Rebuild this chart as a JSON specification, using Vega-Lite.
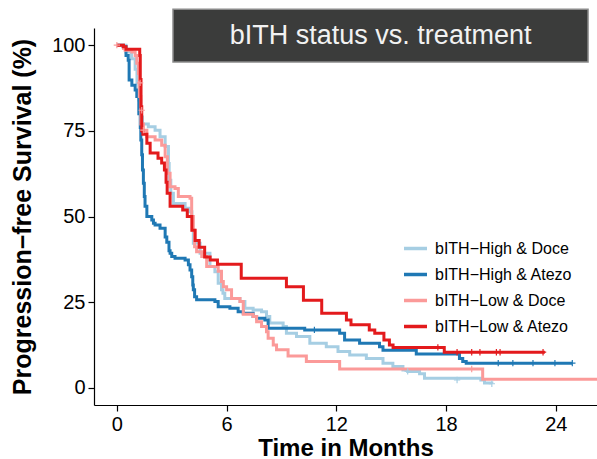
{
  "$schema": "https://vega.github.io/schema/vega-lite/v6.json",
  "autosize": {"type": "none"},
  "padding": {"left": 94, "top": 28, "right": 0, "bottom": 54},
  "width": 503,
  "height": 377,
  "background": "white",
  "config": {
    "view": {"stroke": null},
    "font": "Liberation Sans",
    "axis": {
      "grid": false,
      "domainColor": "black",
      "domainWidth": 1.2,
      "tickColor": "black",
      "tickWidth": 1.2,
      "tickSize": 6,
      "labelColor": "black",
      "labelFont": "Liberation Sans",
      "labelFontSize": 20,
      "labelPadding": 3,
      "titleFont": "Liberation Sans",
      "titleFontSize": 25,
      "titleFontWeight": "bold",
      "titleColor": "black"
    }
  },
  "datasets": {
    "km": [
      {"series": "bITH−High & Doce", "t": 0, "S": 100},
      {"series": "bITH−High & Doce", "t": 0.5, "S": 98},
      {"series": "bITH−High & Doce", "t": 0.8, "S": 96},
      {"series": "bITH−High & Doce", "t": 1.0, "S": 93},
      {"series": "bITH−High & Doce", "t": 1.1, "S": 89},
      {"series": "bITH−High & Doce", "t": 1.2, "S": 84},
      {"series": "bITH−High & Doce", "t": 1.3, "S": 79},
      {"series": "bITH−High & Doce", "t": 1.4, "S": 77},
      {"series": "bITH−High & Doce", "t": 1.72, "S": 76.2},
      {"series": "bITH−High & Doce", "t": 2.09, "S": 75.2},
      {"series": "bITH−High & Doce", "t": 2.36, "S": 73.3},
      {"series": "bITH−High & Doce", "t": 2.64, "S": 70.4},
      {"series": "bITH−High & Doce", "t": 2.82, "S": 65.5},
      {"series": "bITH−High & Doce", "t": 2.86, "S": 60.6},
      {"series": "bITH−High & Doce", "t": 2.95, "S": 56.8},
      {"series": "bITH−High & Doce", "t": 3.09, "S": 53.8},
      {"series": "bITH−High & Doce", "t": 3.73, "S": 52.4},
      {"series": "bITH−High & Doce", "t": 3.95, "S": 51.4},
      {"series": "bITH−High & Doce", "t": 4.1, "S": 50},
      {"series": "bITH−High & Doce", "t": 4.15, "S": 46},
      {"series": "bITH−High & Doce", "t": 4.18, "S": 42.2},
      {"series": "bITH−High & Doce", "t": 4.55, "S": 39.3},
      {"series": "bITH−High & Doce", "t": 5.09, "S": 35.4},
      {"series": "bITH−High & Doce", "t": 5.36, "S": 33.9},
      {"series": "bITH−High & Doce", "t": 5.54, "S": 30.5},
      {"series": "bITH−High & Doce", "t": 5.72, "S": 28.6},
      {"series": "bITH−High & Doce", "t": 5.8, "S": 27.6},
      {"series": "bITH−High & Doce", "t": 5.9, "S": 26.1},
      {"series": "bITH−High & Doce", "t": 6.73, "S": 25.2},
      {"series": "bITH−High & Doce", "t": 7.0, "S": 23.2},
      {"series": "bITH−High & Doce", "t": 7.45, "S": 22.7},
      {"series": "bITH−High & Doce", "t": 7.91, "S": 22.2},
      {"series": "bITH−High & Doce", "t": 8.18, "S": 20.8},
      {"series": "bITH−High & Doce", "t": 8.36, "S": 18.9},
      {"series": "bITH−High & Doce", "t": 9.09, "S": 17.9},
      {"series": "bITH−High & Doce", "t": 9.27, "S": 15.9},
      {"series": "bITH−High & Doce", "t": 9.82, "S": 15},
      {"series": "bITH−High & Doce", "t": 10.55, "S": 13},
      {"series": "bITH−High & Doce", "t": 11.45, "S": 12},
      {"series": "bITH−High & Doce", "t": 12.09, "S": 10.6},
      {"series": "bITH−High & Doce", "t": 12.73, "S": 9.6},
      {"series": "bITH−High & Doce", "t": 13.64, "S": 8.6},
      {"series": "bITH−High & Doce", "t": 14.55, "S": 7.2},
      {"series": "bITH−High & Doce", "t": 15.09, "S": 6.2},
      {"series": "bITH−High & Doce", "t": 15.64, "S": 5.2},
      {"series": "bITH−High & Doce", "t": 15.9, "S": 4.8},
      {"series": "bITH−High & Doce", "t": 16.55, "S": 4.1},
      {"series": "bITH−High & Doce", "t": 16.82, "S": 2.8},
      {"series": "bITH−High & Doce", "t": 19.9, "S": 2.3},
      {"series": "bITH−High & Doce", "t": 20.1, "S": 1.4},
      {"series": "bITH−High & Doce", "t": 20.5, "S": 1.2},

      {"series": "bITH−High & Atezo", "t": 0, "S": 100},
      {"series": "bITH−High & Atezo", "t": 0.34, "S": 99.5},
      {"series": "bITH−High & Atezo", "t": 0.5, "S": 97},
      {"series": "bITH−High & Atezo", "t": 0.62, "S": 95.6},
      {"series": "bITH−High & Atezo", "t": 0.67, "S": 89.8},
      {"series": "bITH−High & Atezo", "t": 0.82, "S": 88.3},
      {"series": "bITH−High & Atezo", "t": 1.0, "S": 86.9},
      {"series": "bITH−High & Atezo", "t": 1.09, "S": 85},
      {"series": "bITH−High & Atezo", "t": 1.2, "S": 80},
      {"series": "bITH−High & Atezo", "t": 1.28, "S": 76},
      {"series": "bITH−High & Atezo", "t": 1.31, "S": 72.3},
      {"series": "bITH−High & Atezo", "t": 1.36, "S": 68},
      {"series": "bITH−High & Atezo", "t": 1.4, "S": 63.6},
      {"series": "bITH−High & Atezo", "t": 1.45, "S": 59.7},
      {"series": "bITH−High & Atezo", "t": 1.5, "S": 55.8},
      {"series": "bITH−High & Atezo", "t": 1.54, "S": 53},
      {"series": "bITH−High & Atezo", "t": 1.64, "S": 50},
      {"series": "bITH−High & Atezo", "t": 1.91, "S": 49},
      {"series": "bITH−High & Atezo", "t": 2.0, "S": 48},
      {"series": "bITH−High & Atezo", "t": 2.09, "S": 47.5},
      {"series": "bITH−High & Atezo", "t": 2.36, "S": 46.6},
      {"series": "bITH−High & Atezo", "t": 2.64, "S": 44},
      {"series": "bITH−High & Atezo", "t": 2.73, "S": 42.5},
      {"series": "bITH−High & Atezo", "t": 2.85, "S": 40},
      {"series": "bITH−High & Atezo", "t": 2.91, "S": 39.3},
      {"series": "bITH−High & Atezo", "t": 3.0, "S": 38.3},
      {"series": "bITH−High & Atezo", "t": 3.18, "S": 37.8},
      {"series": "bITH−High & Atezo", "t": 3.73, "S": 37.3},
      {"series": "bITH−High & Atezo", "t": 3.91, "S": 35.9},
      {"series": "bITH−High & Atezo", "t": 4.0, "S": 34.4},
      {"series": "bITH−High & Atezo", "t": 4.09, "S": 32.4},
      {"series": "bITH−High & Atezo", "t": 4.15, "S": 30},
      {"series": "bITH−High & Atezo", "t": 4.18, "S": 28.6},
      {"series": "bITH−High & Atezo", "t": 4.25, "S": 26.6},
      {"series": "bITH−High & Atezo", "t": 4.36, "S": 25.7},
      {"series": "bITH−High & Atezo", "t": 5.36, "S": 25.2},
      {"series": "bITH−High & Atezo", "t": 5.54, "S": 23.7},
      {"series": "bITH−High & Atezo", "t": 6.18, "S": 23.2},
      {"series": "bITH−High & Atezo", "t": 6.63, "S": 22.2},
      {"series": "bITH−High & Atezo", "t": 6.91, "S": 21.8},
      {"series": "bITH−High & Atezo", "t": 7.45, "S": 20.8},
      {"series": "bITH−High & Atezo", "t": 7.64, "S": 20.3},
      {"series": "bITH−High & Atezo", "t": 8.09, "S": 19.8},
      {"series": "bITH−High & Atezo", "t": 8.27, "S": 17.4},
      {"series": "bITH−High & Atezo", "t": 10.27, "S": 16.9},
      {"series": "bITH−High & Atezo", "t": 12.18, "S": 15.9},
      {"series": "bITH−High & Atezo", "t": 12.45, "S": 14},
      {"series": "bITH−High & Atezo", "t": 13.27, "S": 13},
      {"series": "bITH−High & Atezo", "t": 14.36, "S": 12},
      {"series": "bITH−High & Atezo", "t": 14.55, "S": 11},
      {"series": "bITH−High & Atezo", "t": 16.37, "S": 9.9},
      {"series": "bITH−High & Atezo", "t": 18.73, "S": 8.6},
      {"series": "bITH−High & Atezo", "t": 18.91, "S": 7.7},
      {"series": "bITH−High & Atezo", "t": 19.1, "S": 7.2},
      {"series": "bITH−High & Atezo", "t": 24.9, "S": 7.2},

      {"series": "bITH−Low & Doce", "t": 0, "S": 100},
      {"series": "bITH−Low & Doce", "t": 0.36, "S": 99},
      {"series": "bITH−Low & Doce", "t": 0.45, "S": 98.5},
      {"series": "bITH−Low & Doce", "t": 0.82, "S": 98},
      {"series": "bITH−Low & Doce", "t": 1.0, "S": 97},
      {"series": "bITH−Low & Doce", "t": 1.09, "S": 94.7},
      {"series": "bITH−Low & Doce", "t": 1.18, "S": 91.7},
      {"series": "bITH−Low & Doce", "t": 1.23, "S": 85},
      {"series": "bITH−Low & Doce", "t": 1.31, "S": 77},
      {"series": "bITH−Low & Doce", "t": 1.45, "S": 75.2},
      {"series": "bITH−Low & Doce", "t": 1.64, "S": 73.3},
      {"series": "bITH−Low & Doce", "t": 2.09, "S": 72.3},
      {"series": "bITH−Low & Doce", "t": 2.45, "S": 70.8},
      {"series": "bITH−Low & Doce", "t": 2.64, "S": 67.4},
      {"series": "bITH−Low & Doce", "t": 2.76, "S": 62.6},
      {"series": "bITH−Low & Doce", "t": 2.91, "S": 58.7},
      {"series": "bITH−Low & Doce", "t": 3.18, "S": 58.2},
      {"series": "bITH−Low & Doce", "t": 3.36, "S": 55.8},
      {"series": "bITH−Low & Doce", "t": 4.0, "S": 55.3},
      {"series": "bITH−Low & Doce", "t": 4.09, "S": 50},
      {"series": "bITH−Low & Doce", "t": 4.18, "S": 46},
      {"series": "bITH−Low & Doce", "t": 4.25, "S": 41.2},
      {"series": "bITH−Low & Doce", "t": 4.36, "S": 39.7},
      {"series": "bITH−Low & Doce", "t": 4.64, "S": 38.3},
      {"series": "bITH−Low & Doce", "t": 4.91, "S": 35.4},
      {"series": "bITH−Low & Doce", "t": 5.54, "S": 34},
      {"series": "bITH−Low & Doce", "t": 5.72, "S": 31},
      {"series": "bITH−Low & Doce", "t": 5.82, "S": 29.5},
      {"series": "bITH−Low & Doce", "t": 6.0, "S": 28.6},
      {"series": "bITH−Low & Doce", "t": 6.27, "S": 26.1},
      {"series": "bITH−Low & Doce", "t": 6.73, "S": 25.2},
      {"series": "bITH−Low & Doce", "t": 6.91, "S": 21.5},
      {"series": "bITH−Low & Doce", "t": 7.45, "S": 20.8},
      {"series": "bITH−Low & Doce", "t": 7.64, "S": 19.3},
      {"series": "bITH−Low & Doce", "t": 7.91, "S": 17.9},
      {"series": "bITH−Low & Doce", "t": 8.18, "S": 16.4},
      {"series": "bITH−Low & Doce", "t": 8.27, "S": 14.5},
      {"series": "bITH−Low & Doce", "t": 8.55, "S": 12.5},
      {"series": "bITH−Low & Doce", "t": 8.73, "S": 11.1},
      {"series": "bITH−Low & Doce", "t": 9.36, "S": 9.3},
      {"series": "bITH−Low & Doce", "t": 10.36, "S": 7.7},
      {"series": "bITH−Low & Doce", "t": 12.18, "S": 5.5},
      {"series": "bITH−Low & Doce", "t": 20.0, "S": 2.5},
      {"series": "bITH−Low & Doce", "t": 26.25, "S": 2.5},

      {"series": "bITH−Low & Atezo", "t": 0, "S": 100},
      {"series": "bITH−Low & Atezo", "t": 0.36, "S": 99.5},
      {"series": "bITH−Low & Atezo", "t": 0.5, "S": 98.8},
      {"series": "bITH−Low & Atezo", "t": 1.25, "S": 97},
      {"series": "bITH−Low & Atezo", "t": 1.28, "S": 90},
      {"series": "bITH−Low & Atezo", "t": 1.32, "S": 82},
      {"series": "bITH−Low & Atezo", "t": 1.36, "S": 75},
      {"series": "bITH−Low & Atezo", "t": 1.42, "S": 74},
      {"series": "bITH−Low & Atezo", "t": 1.64, "S": 71.4},
      {"series": "bITH−Low & Atezo", "t": 1.82, "S": 68.5},
      {"series": "bITH−Low & Atezo", "t": 2.25, "S": 67},
      {"series": "bITH−Low & Atezo", "t": 2.45, "S": 65.6},
      {"series": "bITH−Low & Atezo", "t": 2.6, "S": 63.6},
      {"series": "bITH−Low & Atezo", "t": 2.69, "S": 60},
      {"series": "bITH−Low & Atezo", "t": 2.75, "S": 56.8},
      {"series": "bITH−Low & Atezo", "t": 2.91, "S": 53},
      {"series": "bITH−Low & Atezo", "t": 3.6, "S": 51.9},
      {"series": "bITH−Low & Atezo", "t": 3.85, "S": 50},
      {"series": "bITH−Low & Atezo", "t": 4.1, "S": 46},
      {"series": "bITH−Low & Atezo", "t": 4.28, "S": 43},
      {"series": "bITH−Low & Atezo", "t": 4.5, "S": 41},
      {"series": "bITH−Low & Atezo", "t": 4.8, "S": 38.2},
      {"series": "bITH−Low & Atezo", "t": 5.1, "S": 37.3},
      {"series": "bITH−Low & Atezo", "t": 5.5, "S": 36.1},
      {"series": "bITH−Low & Atezo", "t": 6.8, "S": 32},
      {"series": "bITH−Low & Atezo", "t": 9.27, "S": 29.5},
      {"series": "bITH−Low & Atezo", "t": 10.2, "S": 25.6},
      {"series": "bITH−Low & Atezo", "t": 11.2, "S": 21.8},
      {"series": "bITH−Low & Atezo", "t": 12.55, "S": 19.8},
      {"series": "bITH−Low & Atezo", "t": 12.8, "S": 18.4},
      {"series": "bITH−Low & Atezo", "t": 13.8, "S": 16.9},
      {"series": "bITH−Low & Atezo", "t": 14.1, "S": 15.9},
      {"series": "bITH−Low & Atezo", "t": 14.6, "S": 14},
      {"series": "bITH−Low & Atezo", "t": 14.9, "S": 12.5},
      {"series": "bITH−Low & Atezo", "t": 15.1, "S": 11.8},
      {"series": "bITH−Low & Atezo", "t": 17.9, "S": 10.4},
      {"series": "bITH−Low & Atezo", "t": 23.4, "S": 10.4}
    ],
    "censor": [
      {"series": "bITH−High & Doce", "t": 15.9, "S": 4.8},
      {"series": "bITH−High & Doce", "t": 18.6, "S": 2.3},
      {"series": "bITH−High & Doce", "t": 20.5, "S": 1.2},
      {"series": "bITH−High & Atezo", "t": 10.8, "S": 16.9},
      {"series": "bITH−High & Atezo", "t": 20.85, "S": 7.2},
      {"series": "bITH−High & Atezo", "t": 21.65, "S": 7.2},
      {"series": "bITH−High & Atezo", "t": 22.75, "S": 7.2},
      {"series": "bITH−High & Atezo", "t": 23.95, "S": 7.2},
      {"series": "bITH−High & Atezo", "t": 24.9, "S": 7.2},
      {"series": "bITH−Low & Doce", "t": 0, "S": 100},
      {"series": "bITH−Low & Doce", "t": 1.27, "S": 89},
      {"series": "bITH−Low & Doce", "t": 1.36, "S": 81},
      {"series": "bITH−Low & Doce", "t": 1.45, "S": 75.2},
      {"series": "bITH−Low & Doce", "t": 19.4, "S": 5.5},
      {"series": "bITH−Low & Atezo", "t": 17.55, "S": 11.8},
      {"series": "bITH−Low & Atezo", "t": 18.6, "S": 10.4},
      {"series": "bITH−Low & Atezo", "t": 19.4, "S": 10.4},
      {"series": "bITH−Low & Atezo", "t": 19.85, "S": 10.4},
      {"series": "bITH−Low & Atezo", "t": 20.75, "S": 10.4},
      {"series": "bITH−Low & Atezo", "t": 20.95, "S": 10.4},
      {"series": "bITH−Low & Atezo", "t": 23.3, "S": 10.4}
    ]
  },
  "layer": [
    {
      "data": {"name": "km"},
      "mark": {"type": "line", "interpolate": "step-after", "strokeWidth": 3},
      "encoding": {
        "x": {
          "field": "t", "type": "quantitative",
          "scale": {"domain": [-1.25, 26.25], "nice": false, "zero": false},
          "axis": {"values": [0, 6, 12, 18, 24], "title": "Time in Months", "titleFontSize": 24, "titleBaseline": "alphabetic", "titleY": 50, "titleX": 251.5, "titleAlign": "center"}
        },
        "y": {
          "field": "S", "type": "quantitative",
          "scale": {"domain": [-5, 105], "nice": false, "zero": false},
          "axis": {"values": [0, 25, 50, 75, 100], "title": "Progression−free Survival (%)", "titlePadding": 16}
        },
        "color": {
          "field": "series", "type": "nominal",
          "scale": {
            "domain": ["bITH−High & Doce", "bITH−High & Atezo", "bITH−Low & Doce", "bITH−Low & Atezo"],
            "range": ["#a6cee3", "#1f78b4", "#fb9a99", "#e31a1c"]
          },
          "legend": {
            "title": null,
            "orient": "none",
            "legendX": 308,
            "legendY": 207,
            "padding": 0,
            "symbolType": "stroke",
            "symbolStrokeWidth": 3.5,
            "symbolSize": 529,
            "rowPadding": 4,
            "labelOffset": 6,
            "labelFont": "Liberation Sans",
            "labelFontSize": 16,
            "labelColor": "black"
          }
        }
      }
    },
    {
      "data": {"name": "censor"},
      "mark": {"type": "point", "shape": "M0,-1L0,1M-1,0L1,0", "filled": false, "strokeWidth": 1.2, "size": 40, "opacity": 1},
      "encoding": {
        "x": {"field": "t", "type": "quantitative"},
        "y": {"field": "S", "type": "quantitative"},
        "color": {"field": "series", "type": "nominal", "legend": null}
      }
    },
    {
      "data": {"values": [{}]},
      "mark": {"type": "rect", "fill": "#3b3c3b", "stroke": "#8a8a8a", "strokeWidth": 1.5},
      "encoding": {
        "x": {"datum": 3.07, "type": "quantitative"},
        "x2": {"datum": 25.76},
        "y": {"datum": 110.5, "type": "quantitative"},
        "y2": {"datum": 95.1}
      }
    },
    {
      "data": {"values": [{"label": "bITH status vs. treatment"}]},
      "mark": {"type": "text", "color": "#f2f2f2", "font": "Liberation Sans", "fontSize": 27, "align": "center", "baseline": "middle"},
      "encoding": {
        "x": {"datum": 14.42, "type": "quantitative"},
        "y": {"datum": 102.6, "type": "quantitative"},
        "text": {"field": "label"}
      }
    }
  ]
}
